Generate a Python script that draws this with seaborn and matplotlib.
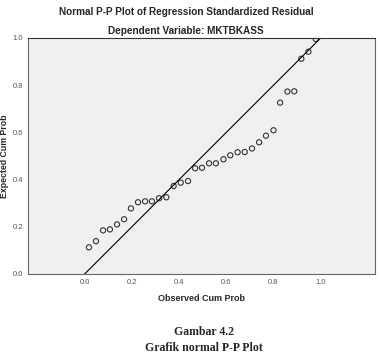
import numpy as np
import pandas as pd
import matplotlib
matplotlib.use("Agg")
import matplotlib.pyplot as plt
import seaborn as sns

# observed vs expected cumulative probabilities
observed = [0.018, 0.048, 0.078, 0.107, 0.137, 0.167, 0.196, 0.226, 0.256, 0.285,
            0.315, 0.346, 0.377, 0.407, 0.438, 0.468, 0.497, 0.527, 0.556, 0.588,
            0.617, 0.648, 0.678, 0.709, 0.739, 0.768, 0.800, 0.828, 0.859, 0.888,
            0.918, 0.948, 0.979]
expected = [0.113, 0.139, 0.185, 0.189, 0.210, 0.232, 0.278, 0.304, 0.308, 0.308,
            0.321, 0.325, 0.373, 0.387, 0.394, 0.448, 0.450, 0.469, 0.469, 0.486,
            0.503, 0.516, 0.517, 0.532, 0.558, 0.586, 0.609, 0.726, 0.773, 0.774,
            0.912, 0.942, 0.996]
ref_line = [0.0, 1.0]
ticks = [0.0, 0.2, 0.4, 0.6, 0.8, 1.0]

df = pd.DataFrame({"obs": observed, "exp": expected})

sns.set_style("white")
plt.rcParams['font.family'] = ['Liberation Sans', 'DejaVu Sans']

fig = plt.figure(figsize=(3.8, 3.58), dpi=100)
ax = fig.add_axes([28 / 380, 1 - 274 / 358, 347 / 380, 236 / 358])
ax.set_facecolor("#f0f0f0")

sns.lineplot(x=ref_line, y=ref_line, ax=ax, color="black", linewidth=0.8)
sns.scatterplot(data=df, x="obs", y="exp", ax=ax, s=14, marker="o",
                facecolor="none", edgecolor="#333333", linewidth=0.8)

ax.set_xlim(-0.24, 1.23)
ax.set_ylim(0, 1)
ax.set_xticks(ticks)
ax.set_yticks(ticks)
ax.set_xticklabels([f"{t:.1f}" for t in ticks], fontsize=5.5, color="#333333")
ax.set_yticklabels([f"{t:.1f}" for t in ticks], fontsize=5.5, color="#333333")
ax.tick_params(axis="both", length=2, width=0.6, pad=1.5, colors="#555555")
for s in ax.spines.values():
    s.set_color("#666666")
    s.set_linewidth(0.8)
ax.spines["top"].set_color("#333333")

ax.set_xlabel("Observed Cum Prob", fontsize=6.5, fontweight="bold", labelpad=6)
ax.set_ylabel("Expected Cum Prob", fontsize=6.3, fontweight="bold")
ax.yaxis.set_label_coords(-0.054, 0.5)

fig.text(0.489, 1 - 12 / 358, "Normal P-P Plot of Regression Standardized Residual",
         ha="center", va="center", fontsize=7.2, fontweight="bold")
fig.text(0.489, 1 - 31 / 358, "Dependent Variable: MKTBKASS",
         ha="center", va="center", fontsize=7.2, fontweight="bold")

fig.text(0.536, 1 - 332 / 358, "Gambar 4.2", ha="center", va="center",
         fontsize=8.5, fontweight="bold", family=["Liberation Serif", "DejaVu Serif"])
fig.text(0.536, 1 - 348 / 358, "Grafik normal P-P Plot", ha="center", va="center",
         fontsize=8.5, fontweight="bold", family=["Liberation Serif", "DejaVu Serif"])

fig.savefig("out.png", dpi=100)
